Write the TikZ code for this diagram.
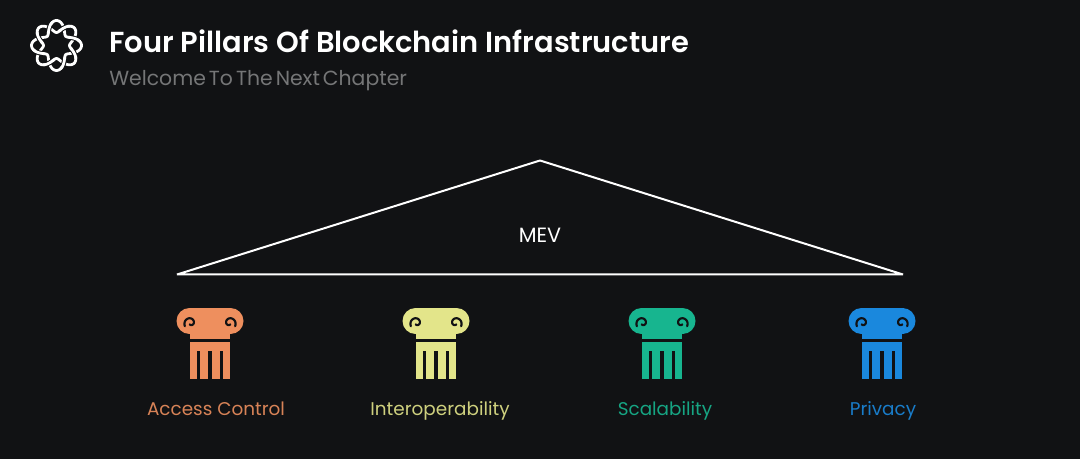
\documentclass[tikz,border=0pt]{standalone}
\usepackage{fontspec}
\setmainfont{Poppins}
\newfontfamily\ttlfont{Poppins SemiBold}
\newfontfamily\subfont[WordSpace=0.55]{Poppins}
\usepackage{xcolor}
\usetikzlibrary{positioning,calc}
\definecolor{bgdark}{HTML}{111214}
\definecolor{access}{HTML}{EE8F5E}
\definecolor{interop}{HTML}{E3E58A}
\definecolor{scal}{HTML}{17B58F}
\definecolor{priv}{HTML}{1A88DD}
\tikzset{
  px/.style   ={x=0.75pt,y=-0.75pt},
  ttl/.style  ={anchor=west, inner sep=0pt, text=white, font=\fontsize{21.7}{24}\ttlfont},
  subttl/.style={anchor=west, inner sep=0pt, text=white!42!bgdark, font=\fontsize{15.3}{18}\subfont},
  plab/.style ={anchor=base, inner sep=0pt, font=\fontsize{13.8}{16}\selectfont},
  roof/.style ={draw=white, line width=1.5pt, line join=bevel},
  strand/.style={draw=white, line width=2.1pt},
  gapline/.style={draw=bgdark, line width=3.6pt},
  volute/.style={draw=bgdark, line width=1.6pt, line cap=round},
}
\def\pillarlist{210/access/216/Access Control, 436/interop/440/Interoperability,
                662/scal/665/Scalability, 882/priv/883/Privacy}
\newcommand{\pillar}[2]{% #1 = centre x, #2 = colour
  \begin{scope}[shift={(#1,0)}]
    \fill[#2] (-20,308) rectangle (20,338.5);
    \fill[#2] (-20.5,321) circle (13);
    \fill[#2] (20.5,321) circle (13);
    \fill[#2] (-20,341.5) rectangle (20,379);
    \foreach \fx in {-11.5,0,11.5}
      {\fill[bgdark] (\fx-1.7,351) rectangle (\fx+1.7,379);}
    \foreach \sgn in {-1,1}
      {\draw[volute,xscale=\sgn,shift={(19.5,323)}]
         plot[smooth,domain=0:330,samples=24] ({\x+60}:{1.5+\x/66});}
  \end{scope}}
\begin{document}
\begin{tikzpicture}[px]
\fill[bgdark] (0,0) rectangle (1080,459);
\useasboundingbox (0,0) rectangle (1080,459);
% logo
\begin{scope}[shift={(56.5,45.5)},rotate=22.5]
  \draw[strand] plot[smooth cycle,domain=0:357,samples=120] (\x:{19+6*sin(4*\x)});
  \draw[strand] plot[smooth cycle,domain=0:357,samples=120] (\x:{19-6*sin(4*\x)});
  \foreach \k in {0,1,...,7} {
    \pgfmathsetmacro{\sg}{ifthenelse(mod(\k,2)==0,1,-1)}
    \draw[gapline] plot[smooth,domain=\k*45-7:\k*45+7,samples=7] (\x:{19+\sg*6*sin(4*\x)});
    \draw[strand] plot[smooth,domain=\k*45-13:\k*45+13,samples=9] (\x:{19+\sg*6*sin(4*\x)});
  }
\end{scope}
\node[ttl] (title) at (109,41.5) {Four Pillars Of Blockchain Infrastructure};
\node[subttl] (subtitle) at (109,80.5) {Welcome To The Next Chapter};
% roof
\coordinate (apex) at (540,160.5);
\coordinate (left) at (177,274.5);
\coordinate (right) at (903,274.5);
\draw[roof] (left) -- (apex) -- (right) -- cycle;
\node[inner sep=0pt, text=white, font=\fontsize{15.5}{18}\selectfont] (mev) at (540,235) {MEV};
% pillars
\foreach \cx/\col/\lx/\lab in \pillarlist {
  \pillar{\cx}{\col}
  \node[plab, text=\col!90!bgdark] (lab\col) at (\lx,415) {\lab};
}
\end{tikzpicture}
\end{document}
